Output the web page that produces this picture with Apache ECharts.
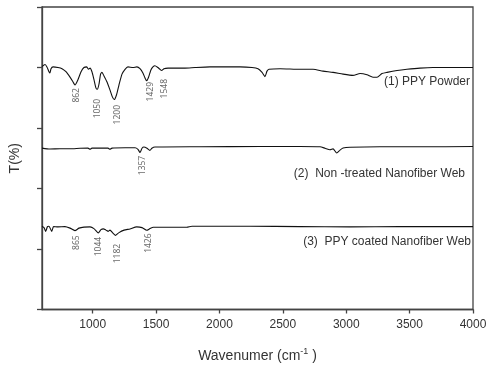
<!DOCTYPE html>
<html>
<head>
<meta charset="utf-8">
<script src="https://cdn.jsdelivr.net/npm/echarts@6/dist/echarts.min.js"></script>
<style>html,body{margin:0;padding:0;background:#fff;}#c{width:493px;height:368px;}</style>
</head>
<body>
<div id="c"></div>
<script>
// ---- data ----
var seriesNames = ['(1) PPY Powder', '(2)  Non -treated Nanofiber Web', '(3)  PPY coated Nanofiber Web'];
var xTicks = [1000, 1500, 2000, 2500, 3000, 3500, 4000];

var wn1 = [600,624,639,655,663,671,687,726,758,789,821,845,860,884,908,931,953,967,979,994,1010,1026,1038,1050,1062,1073,1089,1113,1136,1156,1170,1188,1207,1231,1255,1278,1318,1349,1373,1396,1412,1425,1439,1459,1475,1491,1514,1544,1562,1594,1649,1728,1807,1925,2044,2162,2257,2304,2336,2359,2375,2391,2478,2635,2738,2817,2896,2975,3053,3109,3164,3211,3243,3282,3322,3401,3479,3582,3684,3819,4000];
var t1 = [4.015,4.05,4.01,3.93,3.91,3.98,4.01,4.00,3.98,3.93,3.84,3.76,3.71,3.80,3.93,4.00,4.01,3.97,3.99,3.93,3.80,3.66,3.64,3.73,3.89,3.92,3.86,3.76,3.63,3.51,3.47,3.55,3.71,3.89,3.97,4.01,4.00,4.01,3.98,3.91,3.83,3.78,3.83,3.96,4.01,4.03,4.00,3.95,3.98,3.99,3.99,3.99,4.00,4.01,4.01,4.01,4.00,3.98,3.92,3.85,3.94,3.97,3.98,3.97,3.97,3.94,3.92,3.89,3.87,3.90,3.88,3.84,3.84,3.90,3.92,3.95,3.97,3.99,4.00,4.00,4.00];

var wn2 = [600,663,742,821,900,963,979,994,1121,1136,1152,1255,1334,1357,1373,1389,1404,1428,1451,1467,1491,1846,2320,2635,2793,2833,2872,2896,2925,2951,2975,3030,3266,3582,4000];
var t2 = [2.668,2.652,2.657,2.657,2.665,2.668,2.648,2.668,2.668,2.648,2.668,2.673,2.673,2.648,2.596,2.665,2.685,2.665,2.629,2.665,2.685,2.690,2.695,2.695,2.690,2.665,2.640,2.655,2.586,2.635,2.668,2.682,2.690,2.690,2.693];

var wn3 = [600,616,629,643,655,677,691,726,781,821,860,892,931,979,1010,1044,1065,1084,1105,1123,1136,1160,1181,1207,1247,1294,1347,1389,1426,1452,1478,1610,1742,1783,2241,2635,3030,3424,4000];
var t3 = [1.376,1.353,1.292,1.370,1.376,1.292,1.370,1.365,1.370,1.345,1.304,1.345,1.362,1.365,1.337,1.266,1.320,1.332,1.312,1.292,1.312,1.262,1.226,1.271,1.312,1.332,1.365,1.353,1.309,1.337,1.360,1.360,1.360,1.376,1.376,1.370,1.365,1.370,1.370];

// peak annotations: [label text, wavenumber, T value]
var peakText = ['862','1050','1200','1429','1548','1357','865','1044','1182','1426'];
var peakWn   = [873, 1039, 1194, 1460, 1565, 1391, 874, 1044, 1194, 1438];
var peakT    = [3.54, 3.32, 3.22, 3.60, 3.65, 2.38, 1.106, 1.04, 0.924, 1.097];

// ---- build ----
function pairs(a, b) { return a.map(function (v, i) { return [v, b[i]]; }); }
var peakData = peakText.map(function (s, i) { return { value: [peakWn[i], peakT[i]], name: s }; });

var chart = echarts.init(document.getElementById('c'), null, { renderer: 'canvas' });
var axisColor = '#444';
var lineStyle = { color: '#111', width: 1.1 };
var option = {
  animation: false,
  backgroundColor: '#fff',
  grid: { left: 42, right: 20, top: 7, bottom: 58, show: true, borderColor: axisColor, borderWidth: 1.3, backgroundColor: 'transparent' },
  xAxis: {
    type: 'value', min: 600, max: 4000,
    axisLine: { show: true, lineStyle: { color: axisColor, width: 1.3 } },
    axisTick: { show: true, length: 4, customValues: xTicks, lineStyle: { color: axisColor, width: 1.3 } },
    axisLabel: { customValues: xTicks, formatter: function (v) { return String(v); }, color: '#333', fontSize: 12, fontFamily: 'Liberation Sans', margin: 9 },
    splitLine: { show: false },
    name: 'Wavenumer (cm{sup|-1} )',
    nameLocation: 'middle', nameGap: 38,
    nameTextStyle: { color: '#333', fontSize: 14, fontFamily: 'Liberation Sans',
      rich: { sup: { fontSize: 9, color: '#333', fontFamily: 'Liberation Sans', verticalAlign: 'top', padding: [0, 0, 8, 0] } } }
  },
  yAxis: {
    type: 'value', min: 0, max: 5, interval: 1,
    axisLine: { show: true, lineStyle: { color: axisColor, width: 1.3 } },
    axisTick: { show: true, length: 5, lineStyle: { color: axisColor, width: 1.3 } },
    axisLabel: { show: false },
    splitLine: { show: false },
    name: 'T(%)', nameLocation: 'middle', nameRotate: 90, nameGap: 20,
    nameTextStyle: { color: '#333', fontSize: 14, fontFamily: 'Liberation Sans' }
  },
  series: [
    { type: 'line', name: seriesNames[0], data: pairs(wn1, t1), showSymbol: false, smooth: 0.2, lineStyle: lineStyle },
    { type: 'line', name: seriesNames[1], data: pairs(wn2, t2), showSymbol: false, smooth: 0.2, lineStyle: lineStyle },
    { type: 'line', name: seriesNames[2], data: pairs(wn3, t3), showSymbol: false, smooth: 0.2, lineStyle: lineStyle },
    { type: 'scatter', data: peakData, symbolSize: 0, silent: true,
      label: { show: true, position: 'inside', rotate: 90, formatter: '{b}', color: '#444', fontSize: 8.5, fontFamily: 'Noto Sans' } }
  ],
  graphic: [
    { type: 'text', right: 23, top: 76, style: { text: seriesNames[0], fill: '#333', font: '12px "Liberation Sans"' } },
    { type: 'text', right: 28, top: 168, style: { text: seriesNames[1], fill: '#333', font: '12px "Liberation Sans"' } },
    { type: 'text', right: 22, top: 236, style: { text: seriesNames[2], fill: '#333', font: '12px "Liberation Sans"' } }
  ]
};
chart.setOption(option);
</script>
</body>
</html>
